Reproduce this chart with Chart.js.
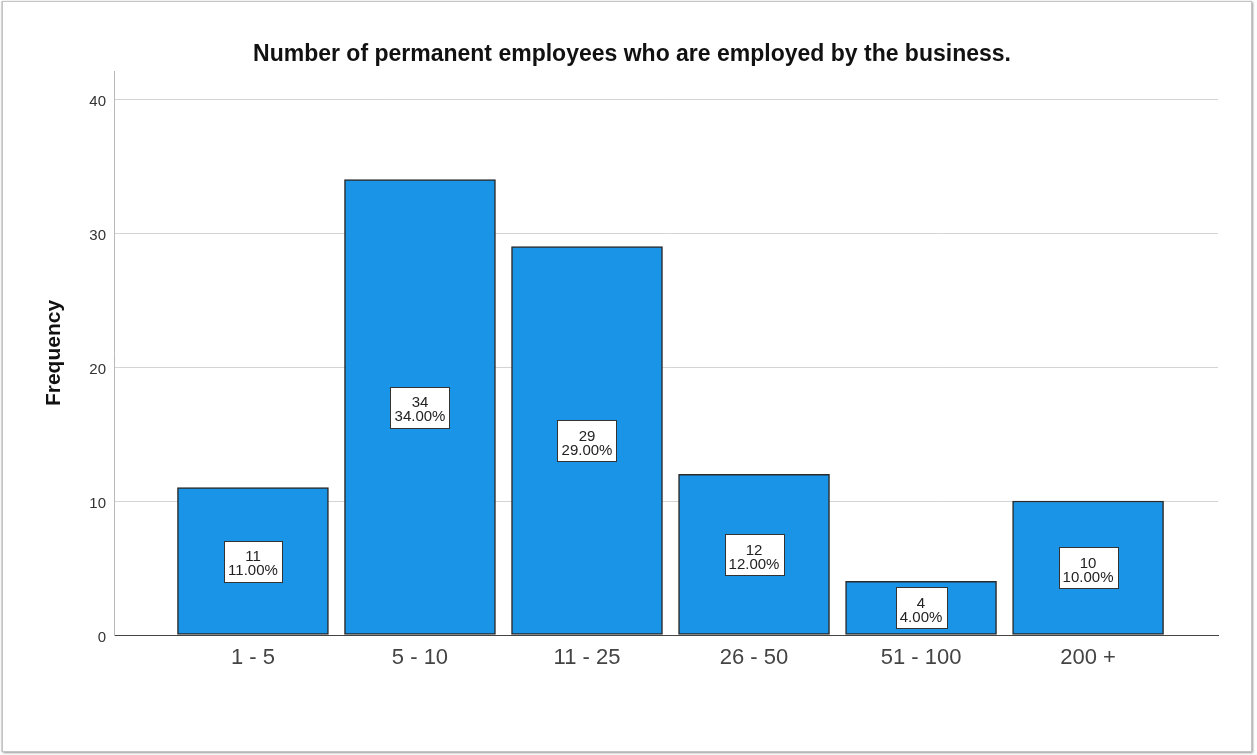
<!DOCTYPE html>
<html>
<head>
<meta charset="utf-8">
<script src="https://cdn.jsdelivr.net/npm/chart.js@4"></script>
<style>
  body { margin: 0; background: #fff; }
  #frame {
    position: absolute; left: 2px; top: 1px; width: 1248px; height: 749px;
    border: 1px solid #c4c4c4;
    box-shadow: 1px 1px 2px #9a9a9a, -1px 0 1px #d8d8d8;
  }
  #chart { position: absolute; left: 0; top: 0; }
</style>
</head>
<body>
<div id="frame"></div>
<canvas id="chart" width="1257" height="755"></canvas>
<script>
const categories = ['1 - 5', '5 - 10', '11 - 25', '26 - 50', '51 - 100', '200 +'];
const frequencies = [11, 34, 29, 12, 4, 10];
const percents = [11.00, 34.00, 29.00, 12.00, 4.00, 10.00];
const yTicks = [0, 10, 20, 30, 40];

const fontFamily = "'Liberation Sans', Arial, sans-serif";

// white value boxes in the middle of each bar
const barLabels = {
    id: 'barLabels',
    afterDatasetsDraw(chart) {
        const ctx = chart.ctx;
        const meta = chart.getDatasetMeta(0);
        ctx.save();
        ctx.font = '15px ' + fontFamily;
        meta.data.forEach((bar, i) => {
            const line1 = String(frequencies[i]);
            const line2 = percents[i].toFixed(2) + '%';
            const w = Math.round(Math.max(ctx.measureText(line1).width, ctx.measureText(line2).width) + 8);
            const h = 41;
            const cx = bar.x;
            const cy = (bar.y + bar.base) / 2;
            const left = Math.round(cx - w / 2) + 0.5;
            const top = Math.round(cy - h / 2) + 0.5;
            ctx.fillStyle = '#ffffff';
            ctx.fillRect(left, top, w, h);
            ctx.strokeStyle = '#333';
            ctx.lineWidth = 1;
            ctx.strokeRect(left, top, w, h);
            ctx.fillStyle = '#222';
            ctx.textAlign = 'center';
            ctx.textBaseline = 'middle';
            ctx.fillText(line1, cx, cy - 4);
            ctx.fillText(line2, cx, cy + 10);
        });
        ctx.restore();
    }
};

new Chart(document.getElementById('chart'), {
    type: 'bar',
    data: {
        datasets: [{
            data: frequencies.map((v, i) => ({ x: i, y: v })),
            backgroundColor: '#1a94e6',
            borderColor: '#2a2a2a',
            borderWidth: 1.5,
            borderSkipped: false,
            barThickness: 151
        }]
    },
    options: {
        responsive: false,
        animation: false,
        devicePixelRatio: 1,
        layout: { padding: { left: 46, right: 39, top: 0, bottom: 0 } },
        plugins: {
            legend: { display: false },
            tooltip: { enabled: false },
            title: {
                display: true,
                text: 'Number of permanent employees who are employed by the business.',
                color: '#111',
                font: { family: fontFamily, size: 23, weight: 'bold' },
                padding: { top: 41, bottom: 2.4 }
            }
        },
        scales: {
            x: {
                type: 'linear',
                offset: false,
                min: -0.832,
                max: 5.778,
                afterBuildTicks(scale) {
                    scale.ticks = categories.map((c, i) => ({ value: i }));
                },
                afterFit(scale) { scale.height = 120; },
                grid: { display: false, drawTicks: false, offset: false },
                border: { display: true, color: '#444', width: 1 },
                ticks: {
                    padding: 10,
                    color: '#444',
                    font: { family: fontFamily, size: 22 },
                    callback: v => categories[v]
                }
            },
            y: {
                min: 0,
                max: 42.1,
                afterBuildTicks(scale) {
                    scale.ticks = yTicks.map(v => ({ value: v }));
                },
                afterFit(scale) { scale.width = 68; },
                grid: {
                    drawTicks: false,
                    color: ctx => ctx.tick && ctx.tick.value === 0 ? '#444' : '#d4d4d4'
                },
                border: { display: true, color: '#b8b8b8', width: 1 },
                ticks: {
                    padding: 8,
                    labelOffset: 3,
                    color: '#333',
                    font: { family: fontFamily, size: 15 }
                },
                title: {
                    display: true,
                    text: 'Frequency',
                    color: '#111',
                    font: { family: fontFamily, size: 21, weight: 'bold', lineHeight: 0.8 },
                    padding: { top: 0, bottom: 0 }
                }
            }
        }
    },
    plugins: [barLabels]
});
</script>
</body>
</html>
